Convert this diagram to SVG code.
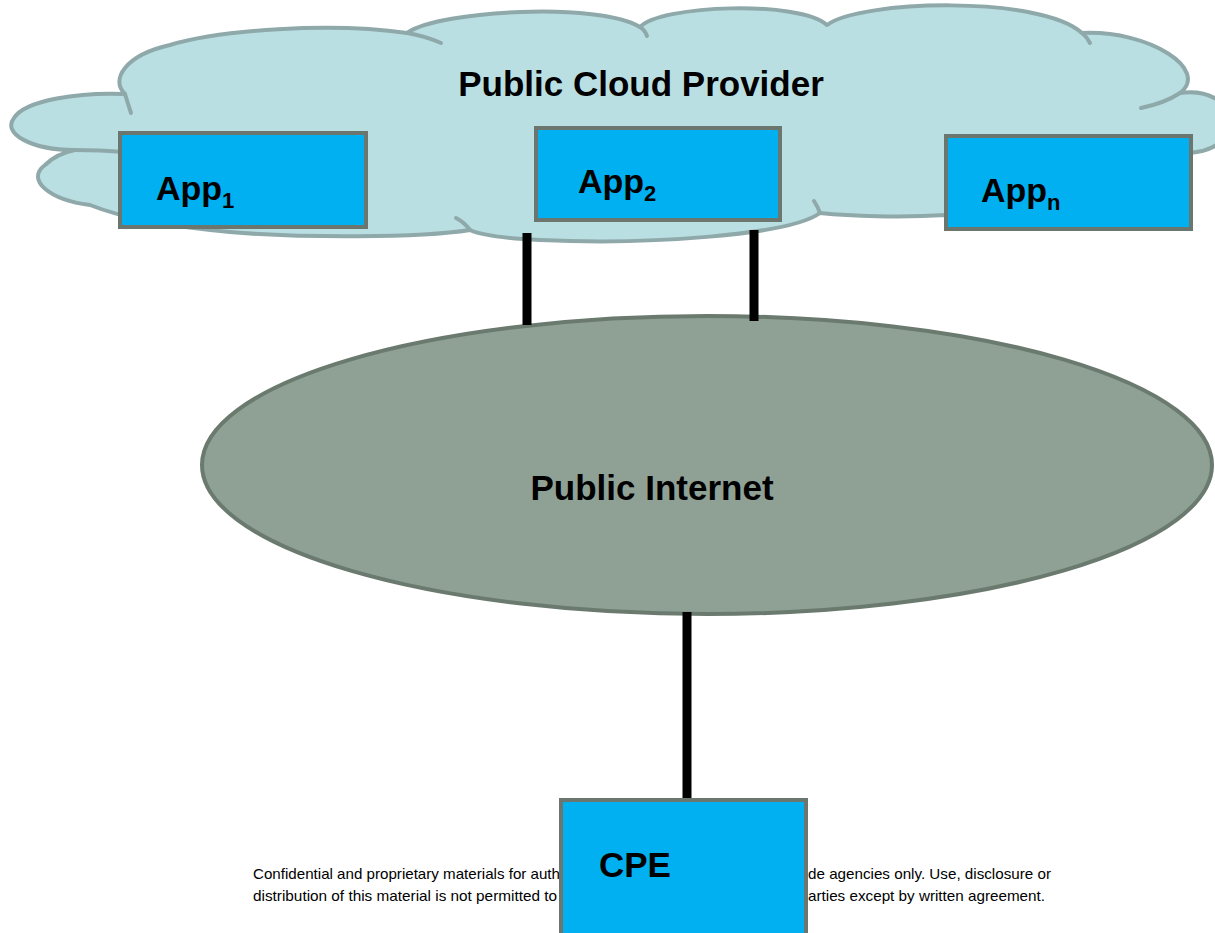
<svg xmlns="http://www.w3.org/2000/svg" width="1215" height="933" viewBox="0 0 1215 933">
<style>
.cloud{fill:#b9dfe3;stroke:#8fa9aa;stroke-width:4;stroke-linejoin:round}
.tail{fill:none;stroke:#8fa9aa;stroke-width:4;stroke-linecap:round}
.box{fill:#00b0f0;stroke:#6b776e;stroke-width:4}
.net{fill:#8fa195;stroke:#6b7a6e;stroke-width:4}
.lbl{font-family:"Liberation Sans",Arial,sans-serif;font-weight:bold;fill:#000}
.foot{font-family:"Liberation Sans Narrow","Liberation Sans",Arial,sans-serif;font-size:15px;fill:#000}
.conn{stroke:#000;stroke-width:9;fill:none}
</style>
<rect width="1215" height="933" fill="#fff"/>
<g id="cloud">
<path class="cloud" d="M75,150 C30,150 2,133 14,118 C25,100 80,92 125,94 C110,80 125,55 170,45 C220,30 330,22 407,33 C440,10 600,2 640,27 C660,5 800,0 827,25 C860,0 1040,-5 1082,33 C1150,30 1210,70 1180,93 C1240,85 1250,150 1188,153 C1180,200 1000,225 946,215 C900,218 850,216 820,213 C790,235 650,245 540,240 C500,238 480,235 470,230 C420,238 300,238 230,232 C150,225 110,213 90,205 C50,200 25,180 45,165 C55,155 65,152 75,150 Z"/>
<path class="tail" d="M75,150 Q100,150 125,152"/>
<path class="tail" d="M125,94 Q128,104 131,113"/>
<path class="tail" d="M407,33 Q425,36 441,43"/>
<path class="tail" d="M640,27 Q645,30 647,36"/>
<path class="tail" d="M1082,33 Q1087,37 1090,43"/>
<path class="tail" d="M1180,93 Q1165,103 1141,108"/>
<path class="tail" d="M820,213 Q818,207 814,201"/>
<path class="tail" d="M470,230 Q464,222 456,218"/>
<text class="lbl" x="641" y="96" font-size="35" text-anchor="middle">Public Cloud Provider</text>
</g>
<g id="internet">
<ellipse class="net" cx="707" cy="465" rx="505" ry="149"/>
<text class="lbl" x="652" y="500" font-size="35" text-anchor="middle">Public Internet</text>
</g>
<g id="connectors">
<line class="conn" x1="527" y1="233" x2="527" y2="325"/>
<line class="conn" x1="754" y1="230" x2="754" y2="321"/>
<line class="conn" x1="687" y1="612" x2="687" y2="802" stroke-width="8"/>
</g>
<g id="app1">
<rect class="box" x="120" y="133" width="246" height="94"/>
<text class="lbl" x="156" y="200" font-size="34">App<tspan font-size="22" dy="8">1</tspan></text>
</g>
<g id="app2">
<rect class="box" x="536" y="128" width="244" height="92"/>
<text class="lbl" x="578" y="193" font-size="34">App<tspan font-size="22" dy="8">2</tspan></text>
</g>
<g id="appn">
<rect class="box" x="946" y="136" width="245" height="93"/>
<text class="lbl" x="981" y="202" font-size="34">App<tspan font-size="22" dy="8">n</tspan></text>
</g>
<g id="footer">
<text class="foot" x="253" y="879" textLength="307" lengthAdjust="spacingAndGlyphs">Confidential and proprietary materials for auth</text>
<text class="foot" x="253" y="901" textLength="304" lengthAdjust="spacingAndGlyphs">distribution of this material is not permitted to</text>
<text class="foot" x="808" y="879" textLength="243" lengthAdjust="spacingAndGlyphs">de agencies only. Use, disclosure or</text>
<text class="foot" x="808" y="901" textLength="237" lengthAdjust="spacingAndGlyphs">arties except by written agreement.</text>
</g>
<g id="cpe">
<rect class="box" x="561" y="800" width="245" height="140"/>
<text class="lbl" x="599" y="877" font-size="35">CPE</text>
</g>
</svg>
